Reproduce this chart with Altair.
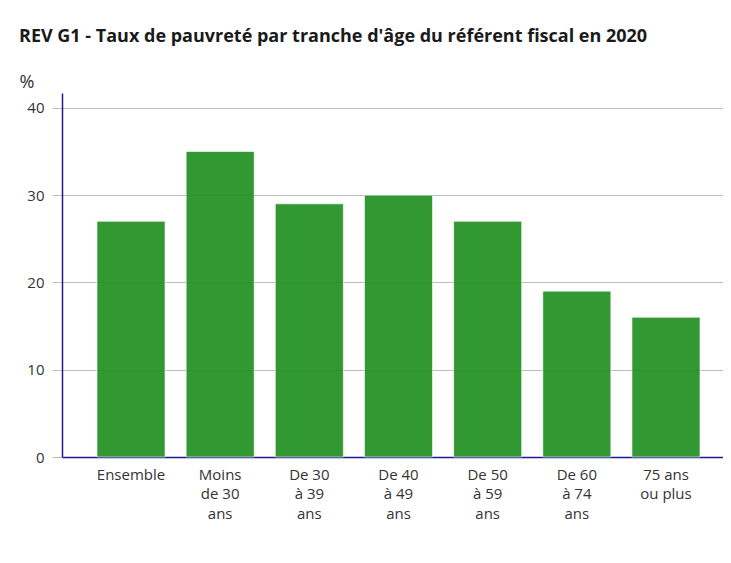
import altair as alt
import pandas as pd

categories = ["Ensemble", "Moins|de 30|ans", "De 30|à 39|ans", "De 40|à 49|ans",
              "De 50|à 59|ans", "De 60|à 74|ans", "75 ans|ou plus"]
values = [27, 35, 29, 30, 27, 19, 16]
y_ticks = [0, 10, 20, 30, 40]

df = pd.DataFrame({"cat": categories, "val": values})

navy = "#1c1c8f"
text_col = "#333333"
font = "Open Sans"

chart = alt.Chart(df).mark_bar(
    color="#1c8e1c", fillOpacity=0.9, stroke="#ffffff", strokeOpacity=0.6, strokeWidth=1
).encode(
    x=alt.X("cat:N", sort=categories,
            scale=alt.Scale(paddingInner=0.237, paddingOuter=0.3925, range=[0, 673]),
            axis=alt.Axis(title=None, labelAngle=0, ticks=False, domainColor=navy,
                          domainWidth=1.5, labelExpr="split(datum.label, '|')",
                          labelFont=font, labelFontSize=15, labelColor=text_col,
                          labelLineHeight=19.5, labelPadding=10, labelBaseline="top",
                          grid=False)),
    y=alt.Y("val:Q", scale=alt.Scale(domain=[0, 41.7], nice=False),
            axis=alt.Axis(values=y_ticks, title="%", titleAngle=0, titleX=-43,
                          titleY=-6, titleAlign="left", titleBaseline="alphabetic",
                          titleFont=font, titleFontSize=18, titleFontWeight="normal",
                          titleColor=text_col, labelFont=font, labelFontSize=15,
                          labelColor=text_col, labelPadding=8, tickSize=10,
                          tickColor="#bdbdbd", gridColor="#bdbdbd", gridWidth=1.2,
                          domainColor=navy, domainWidth=1.5)),
).properties(
    width=661, height=364,
    title=alt.TitleParams("REV G1 - Taux de pauvreté par tranche d'âge du référent fiscal en 2020",
                          anchor="start", font=font, fontSize=18, fontWeight="bold",
                          color="#1a1a1a", offset=27),
    autosize=alt.AutoSizeParams(type="none"),
    padding={"left": 54, "top": 85, "right": 0, "bottom": 95},
).configure_view(stroke=None)

chart.save("out.html", embed_options={"renderer": "svg", "actions": False})
